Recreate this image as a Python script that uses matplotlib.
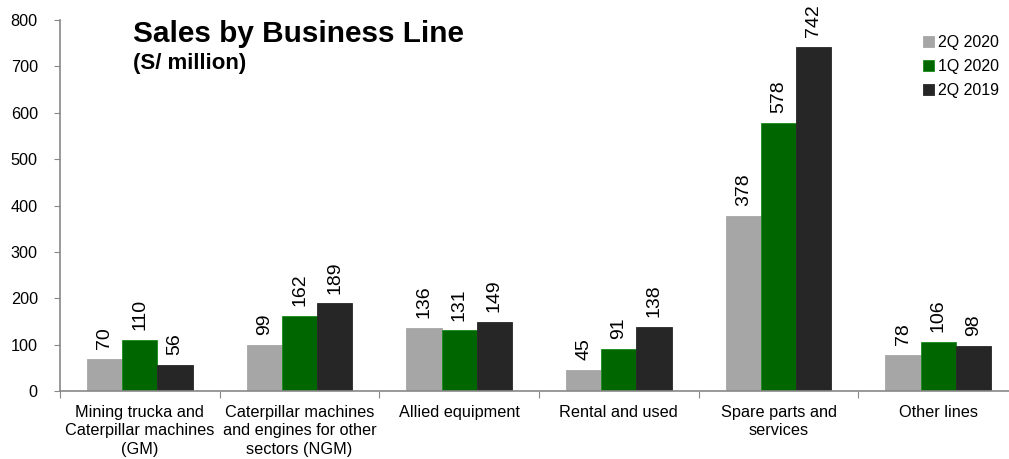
import matplotlib
matplotlib.use("Agg")
import matplotlib.pyplot as plt
import numpy as np

plt.rcParams['font.family'] = ['Liberation Sans', 'DejaVu Sans']

categories = ["Mining trucka and\nCaterpillar machines\n(GM)",
              "Caterpillar machines\nand engines for other\nsectors (NGM)",
              "Allied equipment",
              "Rental and used",
              "Spare parts and\nservices",
              "Other lines"]
series_names = ["2Q 2020", "1Q 2020", "2Q 2019"]
q2_2020 = [70, 99, 136, 45, 378, 78]
q1_2020 = [110, 162, 131, 91, 578, 106]
q2_2019 = [56, 189, 149, 138, 742, 98]
colors = ["#A6A6A6", "#006600", "#262626"]
edge_colors = ["#A6A6A6", "#1a8a1a", "#262626"]
yticks = [0, 100, 200, 300, 400, 500, 600, 700, 800]

fig = plt.figure(figsize=(10.09, 4.59), dpi=100)
ax = fig.add_axes([60/1009, 1-391/459, 958/1009, 371/459])

x = np.arange(len(categories))
w = 0.22
for i, (vals, c, ec, name) in enumerate(zip([q2_2020, q1_2020, q2_2019], colors, edge_colors, series_names)):
    bars = ax.bar(x + (i-1)*w, vals, width=w, color=c, edgecolor=ec, linewidth=0.6, label=name, zorder=2)
    for b, v in zip(bars, vals):
        ax.annotate(str(v), (b.get_x()+b.get_width()/2, b.get_height()),
                    xytext=(0, 7), textcoords='offset points',
                    rotation=90, ha='center', va='bottom', fontsize=14, color='#000000')

ax.set_xlim(-0.5, 5.5)
ax.set_ylim(0, 800)
ax.set_yticks(yticks)
ax.set_yticklabels([str(t) for t in yticks], fontsize=11.7)
ax.set_xticks(np.arange(-0.5, 6.0, 1.0))
ax.set_xticklabels([])
ax.set_xticks(x, minor=True)
ax.set_xticklabels(categories, minor=True, fontsize=11.7, linespacing=1.3)
ax.tick_params(axis='x', which='minor', length=0, pad=10)
ax.tick_params(axis='x', which='major', length=5, direction='out', color='#888888')
ax.tick_params(axis='y', length=4, direction='out', color='#888888', pad=12)

for s in ['top', 'right']:
    ax.spines[s].set_visible(False)
ax.spines['left'].set_color('#888888')
ax.spines['bottom'].set_color('#888888')
ax.spines['left'].set_linewidth(1.2)
ax.spines['bottom'].set_linewidth(1.2)

fig.text(133/1009, 1-34/459, "Sales by Business Line", fontsize=21.4, fontweight='bold', va='center', ha='left')
fig.text(133/1009, 1-64/459, "(S/ million)", fontsize=16, fontweight='bold', va='center', ha='left')

leg = ax.legend(loc='upper right', bbox_to_anchor=(1013/1009, 1-21/459), bbox_transform=fig.transFigure,
                frameon=False, fontsize=11.5, handlelength=0.7, handleheight=0.7, handletextpad=0.2,
                labelspacing=0.55)

fig.savefig("out.png", dpi=100)
